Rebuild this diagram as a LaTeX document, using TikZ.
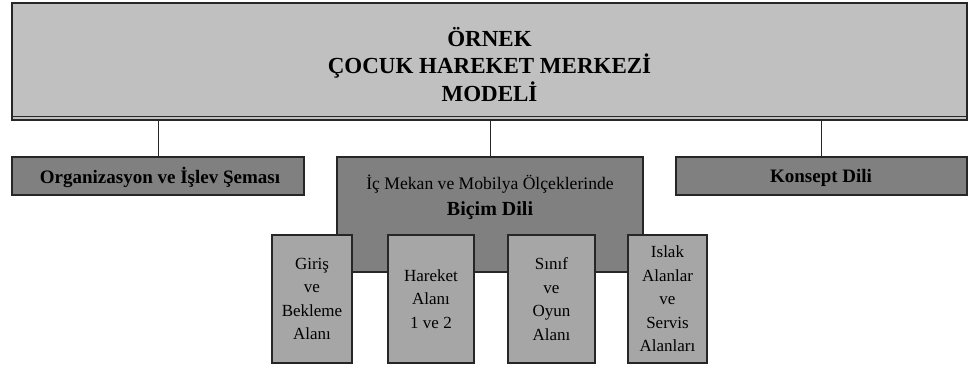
\documentclass[tikz,border=0pt]{standalone}
\usepackage{fontspec}
\setmainfont{Liberation Serif}
\definecolor{lightG}{HTML}{C0C0C0}
\definecolor{darkG}{HTML}{808080}
\definecolor{midG}{HTML}{A6A6A6}
\begin{document}
\begin{tikzpicture}[x=1pt,y=-1pt,
  box/.style={draw=black!85, line width=1.3pt, inner sep=0pt, outer sep=0pt},
  conn/.style={draw=black!85, line width=1pt},
  small/.style={box, fill=midG, minimum height=128pt, align=center,
     font=\fontsize{17}{23.5}\selectfont},
  headtxt/.style={font=\bfseries\fontsize{19}{22}\selectfont}]
\useasboundingbox (0,0) rectangle (973,365);
% main box
\node[box, fill=lightG, minimum width=955pt, minimum height=117pt] (main) at (489.5,61.5) {};
\draw[line width=1pt, black!85] ([yshift=3.5pt]main.south west) -- ([yshift=3.5pt]main.south east);
\node[align=center, font=\bfseries\fontsize{23}{27.5}\selectfont] (title) at (489.5,64.5)
  {ÖRNEK\\ÇOCUK HAREKET MERKEZİ\\MODELİ};
% second level
\node[box, fill=darkG, minimum width=292pt, minimum height=38pt] (org) at (158,176) {};
\node[headtxt] (orgtxt) at (160,177.5) {Organizasyon ve İşlev Şeması};
\node[box, fill=darkG, minimum width=291pt, minimum height=38pt] (kons) at (821.5,176) {};
\node[headtxt] (konstxt) at (821,177.5) {Konsept Dili};
\node[box, fill=darkG, minimum width=306pt, minimum height=115pt] (bicim) at (490,214.5) {};
\node[font=\fontsize{17.6}{20}\selectfont] (bicimA) at (490,184) {İç Mekan ve Mobilya Ölçeklerinde};
\node[font=\bfseries\fontsize{20}{24}\selectfont] (bicimB) at (490,211) {Biçim Dili};
% connectors
\draw[conn] (org.north |- main.south) -- (org.north);
\draw[conn] (bicim.north |- main.south) -- (bicim.north);
\draw[conn] (kons.north |- main.south) -- (kons.north);
% third level
\node[small, minimum width=80pt] (giris) at (312,299) {Giriş\\ve\\Bekleme\\Alanı};
\node[small, minimum width=86pt] (hareket) at (431,299) {Hareket\\Alanı\\1 ve 2};
\node[small, minimum width=87pt] (sinif) at (551.5,299) {Sınıf\\ve\\Oyun\\Alanı};
\node[small, minimum width=79pt] (islak) at (667.5,299) {Islak\\Alanlar\\ve\\Servis\\Alanları};
\end{tikzpicture}
\end{document}
